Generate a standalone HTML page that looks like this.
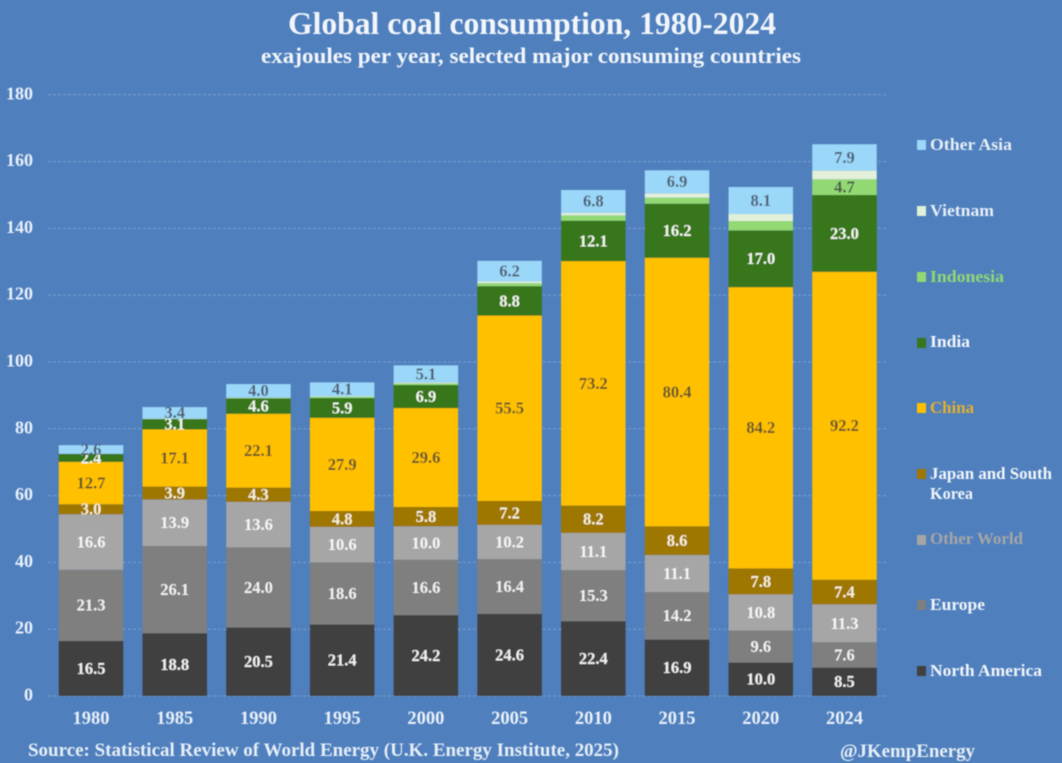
<!DOCTYPE html>
<html lang="en">
<head>
<meta charset="utf-8">
<title>Global coal consumption, 1980-2024</title>
<style>
html,body{margin:0;padding:0;background:#4f7fbd;}
body{width:1062px;height:763px;overflow:hidden;}
svg{display:block;font-family:"Liberation Serif",serif;font-weight:bold;}
</style>
</head>
<body>
<svg id="chart" xmlns="http://www.w3.org/2000/svg" width="1062" height="763" viewBox="0 0 1062 763">
  <defs>
    <filter id="soft" x="-2%" y="-2%" width="104%" height="104%"><feGaussianBlur stdDeviation="0.5"/></filter>
  </defs>
  <rect x="0" y="0" width="1062" height="763" fill="#4f7fbd"/>
  <g id="root" filter="url(#soft)">
    <text x="532" y="34" text-anchor="middle" font-size="32" fill="#f2f6fb" textLength="488" lengthAdjust="spacingAndGlyphs">Global coal consumption, 1980-2024</text>
    <text x="531" y="63" text-anchor="middle" font-size="22.5" fill="#f2f6fb" textLength="540" lengthAdjust="spacingAndGlyphs">exajoules per year, selected major consuming countries</text>
    <g id="grid"></g>
    <g id="bars"></g>
    <g id="labels"></g>
    <g id="axis"></g>
    <g id="legend" font-size="17">
      <g><rect x="917" y="140" width="9" height="10" fill="#9bd7f8"/><text x="930" y="150" fill="#e6eff8" textLength="82" lengthAdjust="spacingAndGlyphs">Other Asia</text></g>
      <g><rect x="917" y="206" width="9" height="10" fill="#e2f0d9"/><text x="930" y="216" fill="#e6eff8" textLength="64" lengthAdjust="spacingAndGlyphs">Vietnam</text></g>
      <g><rect x="917" y="272" width="9" height="10" fill="#92d873"/><text x="930" y="282" fill="#92d873" textLength="74" lengthAdjust="spacingAndGlyphs">Indonesia</text></g>
      <g><rect x="917" y="338" width="9" height="10" fill="#38761d"/><text x="930" y="347" fill="#f2f6fb" textLength="40" lengthAdjust="spacingAndGlyphs">India</text></g>
      <g><rect x="917" y="403" width="9" height="10" fill="#ffc000"/><text x="930" y="413" fill="#e3b02e" textLength="44" lengthAdjust="spacingAndGlyphs">China</text></g>
      <g><rect x="917" y="469" width="9" height="10" fill="#9e7700"/><text x="930" y="479" fill="#f2f6fb" textLength="122" lengthAdjust="spacingAndGlyphs">Japan and South</text><text x="930" y="499" fill="#f2f6fb" textLength="43" lengthAdjust="spacingAndGlyphs">Korea</text></g>
      <g><rect x="917" y="535" width="9" height="10" fill="#a6a6a6"/><text x="930" y="544" fill="#a6a6a6" textLength="93" lengthAdjust="spacingAndGlyphs">Other World</text></g>
      <g><rect x="917" y="600" width="9" height="10" fill="#7f7f7f"/><text x="930" y="610" fill="#f2f6fb" textLength="55" lengthAdjust="spacingAndGlyphs">Europe</text></g>
      <g><rect x="917" y="666" width="9" height="10" fill="#404040"/><text x="930" y="676" fill="#f2f6fb" textLength="112" lengthAdjust="spacingAndGlyphs">North America</text></g>
    </g>
    <text x="28" y="756" font-size="18.5" fill="#e6eff8" textLength="591" lengthAdjust="spacingAndGlyphs">Source: Statistical Review of World Energy (U.K. Energy Institute, 2025)</text>
    <text x="840" y="757" font-size="19" fill="#e6eff8" textLength="135" lengthAdjust="spacingAndGlyphs">@JKempEnergy</text>
  </g>
</svg>
<script>
const categories = ['1980','1985','1990','1995','2000','2005','2010','2015','2020','2024'];
const yTicks = [0,20,40,60,80,100,120,140,160,180];
const northAmerica = [16.5,18.8,20.5,21.4,24.2,24.6,22.4,16.9,10.0,8.5];
const europe = [21.3,26.1,24.0,18.6,16.6,16.4,15.3,14.2,9.6,7.6];
const otherWorld = [16.6,13.9,13.6,10.6,10.0,10.2,11.1,11.1,10.8,11.3];
const japanKorea = [3.0,3.9,4.3,4.8,5.8,7.2,8.2,8.6,7.8,7.4];
const china = [12.7,17.1,22.1,27.9,29.6,55.5,73.2,80.4,84.2,92.2];
const india = [2.4,3.1,4.6,5.9,6.9,8.8,12.1,16.2,17.0,23.0];
const indonesia = [0.0,0.1,0.2,0.4,0.5,0.9,1.6,1.8,2.8,4.7];
const vietnam = [0.0,0.1,0.1,0.2,0.3,0.5,0.8,1.3,2.1,2.6];
const otherAsia = [2.6,3.4,4.0,4.1,5.1,6.2,6.8,6.9,8.1,7.9];

const seriesList = [
  {key:'north-america', values:northAmerica, fill:'#404040', text:'#f0f0f0', minLabel:0},
  {key:'europe', values:europe, fill:'#7f7f7f', text:'#f0f0f0', minLabel:0},
  {key:'other-world', values:otherWorld, fill:'#a6a6a6', text:'#f6f6f6', minLabel:0},
  {key:'japan-korea', values:japanKorea, fill:'#9e7700', text:'#f7efd8', minLabel:0},
  {key:'china', values:china, fill:'#ffc000', text:'#66562a', minLabel:0},
  {key:'india', values:india, fill:'#38761d', text:'#f0f5ea', minLabel:0},
  {key:'indonesia', values:indonesia, fill:'#92d873', text:'#4a5d48', minLabel:4},
  {key:'vietnam', values:vietnam, fill:'#e2f0d9', text:'#4a5d48', minLabel:1000},
  {key:'other-asia', values:otherAsia, fill:'#9bd7f8', text:'#4f6176', minLabel:0}
];

const NS = 'http://www.w3.org/2000/svg';
function xCenter(i){ return 91 + i * 83.72; }
function yPos(v){ return 696 - v * 3.34; }
const barWidth = 64.5;

const grid = document.getElementById('grid');
const axis = document.getElementById('axis');
const bars = document.getElementById('bars');
const labels = document.getElementById('labels');

yTicks.forEach(function(t){
  const line = document.createElementNS(NS,'line');
  
  
  line.setAttribute('x1', 48);
  line.setAttribute('x2', 887);
  line.setAttribute('y1', yPos(t));
  line.setAttribute('y2', yPos(t));
  line.setAttribute('stroke', '#7c9fcf');
  line.setAttribute('stroke-width', '1');
  line.setAttribute('stroke-dasharray', '3 2');
  grid.appendChild(line);
  const tick = document.createElementNS(NS,'text');
  
  
  tick.setAttribute('x', 33);
  tick.setAttribute('y', yPos(t) + 4.5);
  tick.setAttribute('text-anchor', 'end');
  tick.setAttribute('font-size', '18');
  tick.setAttribute('fill', '#e8f0fa');
  tick.textContent = t;
  axis.appendChild(tick);
});

categories.forEach(function(cat, i){
  const tick = document.createElementNS(NS,'text');
  
  
  tick.setAttribute('x', xCenter(i));
  tick.setAttribute('y', 724);
  tick.setAttribute('text-anchor', 'middle');
  tick.setAttribute('font-size', '18.5');
  tick.setAttribute('fill', '#e8f0fa');
  tick.textContent = cat;
  axis.appendChild(tick);
  let cum = 0;
  seriesList.forEach(function(s){
    const v = s.values[i];
    const yTop = yPos(cum + v);
    const yBot = yPos(cum);
    if (v > 0) {
      const r = document.createElementNS(NS,'rect');
      
      
      r.setAttribute('data-series', s.key);
      r.setAttribute('x', xCenter(i) - barWidth / 2);
      r.setAttribute('y', yTop);
      r.setAttribute('width', barWidth);
      r.setAttribute('height', yBot - yTop);
      r.setAttribute('fill', s.fill);
      bars.appendChild(r);
    }
    if (v >= s.minLabel && v > 0) {
      const lab = document.createElementNS(NS,'text');
      
      
      lab.setAttribute('x', xCenter(i));
      lab.setAttribute('y', (yTop + yBot) / 2 + 5.4);
      lab.setAttribute('text-anchor', 'middle');
      lab.setAttribute('font-size', '16.5');
      lab.setAttribute('fill', s.text);
      lab.textContent = v.toFixed(1);
      labels.appendChild(lab);
    }
    cum += v;
  });
});
</script>
</body>
</html>
